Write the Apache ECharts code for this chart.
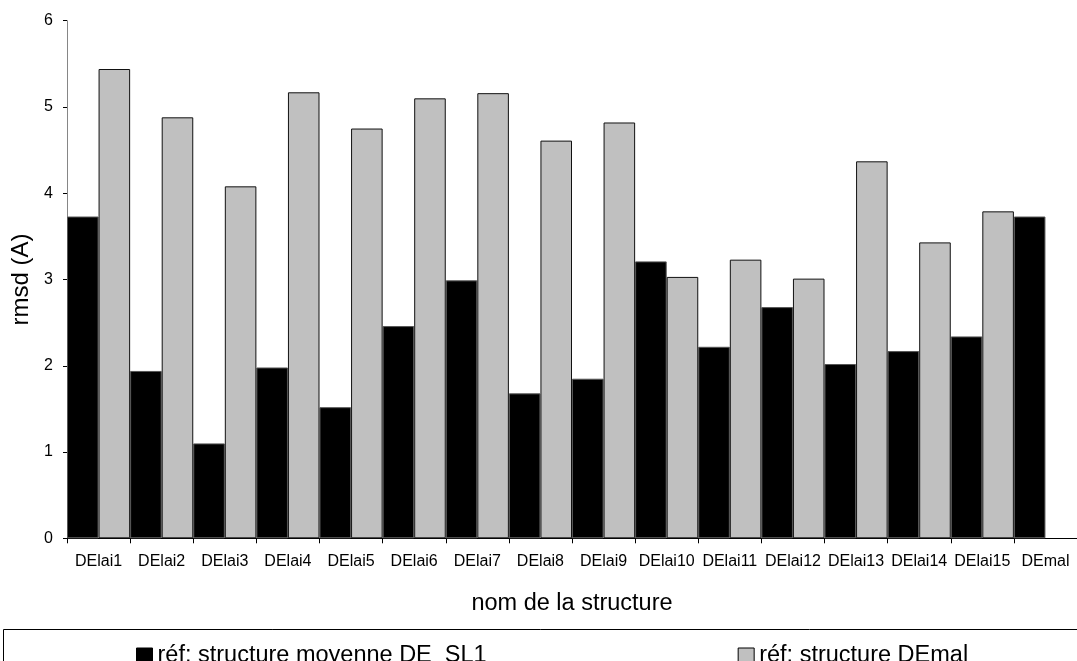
<!DOCTYPE html>
<html>
<head>
<meta charset="utf-8">
<title>rmsd par structure</title>
<script src="https://cdn.jsdelivr.net/npm/echarts@6/dist/echarts.min.js"></script>
<style>
  html, body { margin: 0; padding: 0; background: #fff; }
  #chart { width: 1077px; height: 661px; }
</style>
</head>
<body>
<div id="chart"></div>
<script>
// structures compared
const categories = [
    "DElai1", "DElai2", "DElai3", "DElai4", "DElai5", "DElai6", "DElai7", "DElai8",
    "DElai9", "DElai10", "DElai11", "DElai12", "DElai13", "DElai14", "DElai15", "DEmal"
];

// rmsd vs the average structure DE_SL1
const rmsdMoyenne = [3.73, 1.94, 1.10, 1.98, 1.52, 2.46, 2.99, 1.68, 1.85, 3.21, 2.22, 2.68, 2.02, 2.17, 2.34, 3.73];

// rmsd vs structure DEmal (nothing for DEmal itself)
const rmsdDEmal = [5.44, 4.88, 4.08, 5.17, 4.75, 5.10, 5.16, 4.61, 4.82, 3.03, 3.23, 3.01, 4.37, 3.43, 3.79, null];

const yTicks = { min: 0, max: 6, interval: 1 };

const seriesNames = ["réf: structure moyenne DE_SL1", "réf: structure DEmal"];

const font = "'Liberation Sans', Arial, sans-serif";

const chart = echarts.init(document.getElementById("chart"));

const option = {
    backgroundColor: "#ffffff",
    animation: false,
    textStyle: { fontFamily: font, color: "#000" },
    grid: {
        left: 67,
        top: 20.7,
        width: 1016.5,
        height: 517.6,
        containLabel: false
    },
    legend: {
        left: 131,
        top: 639,
        itemWidth: 16,
        itemHeight: 16,
        itemGap: 251,
        icon: "rect",
        textStyle: { fontFamily: font, fontSize: 23.5, color: "#000" },
        data: [
            { name: seriesNames[0], itemStyle: { color: "#000", borderColor: "#000", borderWidth: 1 } },
            { name: seriesNames[1], itemStyle: { color: "#c0c0c0", borderColor: "#000", borderWidth: 1 } }
        ]
    },
    xAxis: {
        type: "category",
        data: categories,
        name: "nom de la structure",
        nameLocation: "middle",
        nameGap: 53,
        nameTextStyle: { fontFamily: font, fontSize: 23.5, color: "#000" },
        axisLine: { lineStyle: { color: "#000", width: 1 } },
        axisTick: { show: true, length: 5, lineStyle: { color: "#000" } },
        axisLabel: { margin: 15, fontSize: 16, color: "#000", interval: 0 },
        splitLine: { show: false }
    },
    yAxis: {
        type: "value",
        min: yTicks.min,
        max: yTicks.max,
        interval: yTicks.interval,
        name: "rmsd (A)",
        nameLocation: "middle",
        nameGap: 33,
        nameTextStyle: { fontFamily: font, fontSize: 24, color: "#000" },
        axisLine: { show: true, lineStyle: { color: "#868686", width: 1 } },
        axisTick: { show: true, length: 4, lineStyle: { color: "#000" } },
        axisLabel: { margin: 14, fontSize: 16, color: "#000" },
        splitLine: { show: false }
    },
    series: [
        {
            name: seriesNames[0],
            type: "bar",
            data: rmsdMoyenne,
            barGap: "0%",
            barCategoryGap: "0%",
            itemStyle: { color: "#000", borderColor: "#555", borderWidth: 1 }
        },
        {
            name: seriesNames[1],
            type: "bar",
            data: rmsdDEmal,
            barGap: "0%",
            barCategoryGap: "0%",
            itemStyle: { color: "#c0c0c0", borderColor: "#111", borderWidth: 1 }
        }
    ],
    graphic: [
        {
            // frame around the legend, running off the picture on the right and bottom
            type: "rect",
            shape: { x: 3.5, y: 629.5, width: 1200, height: 100 },
            style: { fill: "none", stroke: "#000", lineWidth: 1 },
            silent: true,
            z: 0
        }
    ]
};

chart.setOption(option);
</script>
</body>
</html>
